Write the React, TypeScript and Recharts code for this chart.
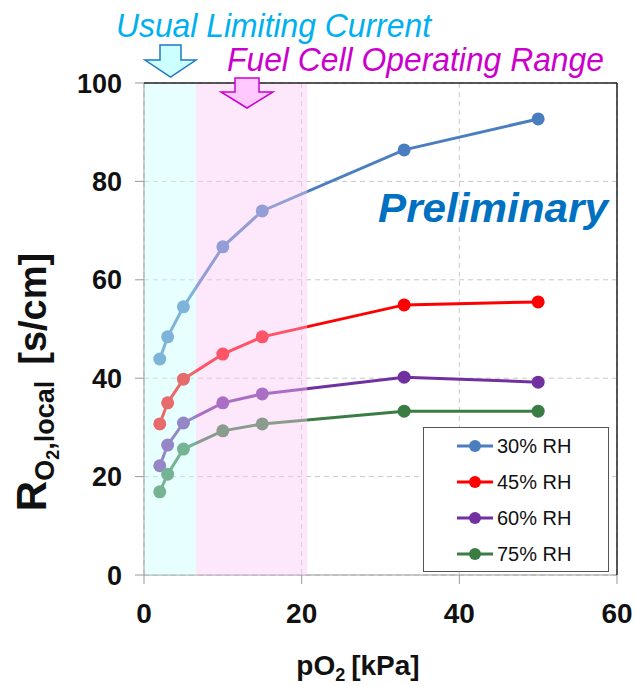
import { LineChart, Line, XAxis, YAxis, CartesianGrid, ReferenceArea, ReferenceLine, Legend } from 'recharts';

// pO2 [kPa] and R_O2,local [s/cm] per relative humidity
const PO2 = [2, 3, 5, 10, 15, 33, 50];
const RH30 = [43.9, 48.4, 54.5, 66.7, 74.0, 86.4, 92.7];
const RH45 = [30.7, 35.0, 39.8, 44.9, 48.4, 54.9, 55.5];
const RH60 = [22.2, 26.4, 30.9, 35.0, 36.8, 40.2, 39.2];
const RH75 = [16.9, 20.5, 25.6, 29.3, 30.7, 33.3, 33.3];

const X_TICKS = [0, 20, 40, 60];
const Y_TICKS = [0, 20, 40, 60, 80, 100];

// shaded ranges along pO2
const LIMITING_RANGE = [0.1, 6.6];
const OPERATING_RANGE = [6.6, 20.7];

const SERIES = [
  { key: 'rh30', name: '30% RH', color: '#4a7ebf', values: RH30 },
  { key: 'rh45', name: '45% RH', color: '#ff0000', values: RH45 },
  { key: 'rh60', name: '60% RH', color: '#7030a0', values: RH60 },
  { key: 'rh75', name: '75% RH', color: '#3a7d44', values: RH75 },
];

const rows = PO2.map((x, i) => {
  const row: Record<string, number> = { x };
  SERIES.forEach((s) => {
    row[s.key] = s.values[i];
  });
  return row;
});

const FONT = '"Liberation Sans", Arial, sans-serif';

function LegendBox() {
  return (
    <div
      style={{
        width: 186,
        height: 145,
        border: '1.5px solid #555',
        background: '#fff',
        boxSizing: 'border-box',
        fontFamily: FONT,
      }}
    >
      {SERIES.map((s) => (
        <div key={s.key} style={{ display: 'flex', alignItems: 'center', height: 36, paddingLeft: 33 }}>
          <svg width={36} height={14}>
            <line x1={0} y1={7} x2={36} y2={7} stroke={s.color} strokeWidth={3} />
            <circle cx={18} cy={7} r={6} fill={s.color} />
          </svg>
          <span style={{ marginLeft: 4, fontSize: 20, color: '#111' }}>{s.name}</span>
        </div>
      ))}
    </div>
  );
}

export default function App() {
  return (
    <div style={{ position: 'absolute', left: 0, top: 0, width: 636, height: 686, background: '#fff', fontFamily: FONT }}>
      <LineChart width={636} height={686} data={rows} margin={{ top: 83, right: 19, left: 84, bottom: 71 }}>
        <CartesianGrid stroke="#c8c8c8" strokeDasharray="5 4" />
        <XAxis
          type="number"
          dataKey="x"
          domain={[0, 60]}
          ticks={X_TICKS}
          height={40}
          tickSize={9}
          tickMargin={19}
          stroke="#999"
          tick={{ fill: '#111', fontSize: 28, fontWeight: 700, fontFamily: FONT }}
        />
        <YAxis
          type="number"
          domain={[0, 100]}
          ticks={Y_TICKS}
          width={60}
          tickSize={9}
          tickMargin={13}
          stroke="#999"
          tick={{ fill: '#111', fontSize: 27, fontWeight: 700, fontFamily: FONT }}
        />
        {SERIES.map((s) => (
          <Line
            key={s.key}
            dataKey={s.key}
            name={s.name}
            stroke={s.color}
            strokeWidth={3}
            dot={{ r: 6.5, fill: s.color, stroke: 'none' }}
            activeDot={false}
            isAnimationActive={false}
          />
        ))}
        <ReferenceArea
          x1={LIMITING_RANGE[0]}
          x2={LIMITING_RANGE[1]}
          y1={0}
          y2={100}
          fill="#c8ffff"
          fillOpacity={0.42}
          stroke="none"
          zIndex={700}
        />
        <ReferenceArea
          x1={OPERATING_RANGE[0]}
          x2={OPERATING_RANGE[1]}
          y1={0}
          y2={100}
          fill="#fac8f5"
          fillOpacity={0.42}
          stroke="none"
          zIndex={700}
        />
        <ReferenceLine y={100} stroke="#222" strokeWidth={1.5} zIndex={800} />
        <ReferenceLine x={60} stroke="#222" strokeWidth={1.5} zIndex={800} />
        <Legend
          layout="horizontal"
          verticalAlign="middle"
          content={<LegendBox />}
          wrapperStyle={{ position: 'absolute', left: 423, top: 427, width: 186, height: 145 }}
        />
      </LineChart>

      <svg
        width={636}
        height={686}
        style={{ position: 'absolute', left: 0, top: 0, pointerEvents: 'none', fontFamily: FONT }}
      >
        {/* range annotations */}
        <text x={116} y={37} fontSize={33} fontStyle="italic" fill="#00b0f0" textLength={315} lengthAdjust="spacingAndGlyphs">
          Usual Limiting Current
        </text>
        <text x={227} y={71} fontSize={33} fontStyle="italic" fill="#cc00cc" textLength={377} lengthAdjust="spacingAndGlyphs">
          Fuel Cell Operating Range
        </text>
        <path
          d="M160,45 L181,45 L181,60 L196,60 L170.5,77 L145,60 L160,60 Z"
          fill="#ccffff"
          stroke="#1f78c0"
          strokeWidth={1.5}
        />
        <path
          d="M235,78 L259,78 L259,92 L273,92 L247,108 L221,92 L235,92 Z"
          fill="#ffc8ff"
          stroke="#cc00cc"
          strokeWidth={1.5}
        />

        <text
          x={378}
          y={222}
          fontSize={40}
          fontWeight={700}
          fontStyle="italic"
          fill="#0070c0"
          textLength={230}
          lengthAdjust="spacingAndGlyphs"
        >
          Preliminary
        </text>

        {/* axis titles */}
        <text x={358} y={675} textAnchor="middle" fontSize={28} fontWeight={700} fill="#111">
          pO
          <tspan fontSize={18} dy={6}>2</tspan>
          <tspan fontSize={28} dy={-6} dx={6}>[kPa]</tspan>
        </text>
        <g transform="translate(46,382) rotate(-90)">
          <text x={0} y={0} textAnchor="middle" fontWeight={700} fill="#111">
            <tspan fontSize={42}>R</tspan>
            <tspan fontSize={27} dy={8}>O</tspan>
            <tspan fontSize={18} dy={5}>2</tspan>
            <tspan fontSize={27} dy={-5}>,local</tspan>
            <tspan fontSize={38} dy={-8} dx={16}>[s/cm]</tspan>
          </text>
        </g>
      </svg>
    </div>
  );
}
